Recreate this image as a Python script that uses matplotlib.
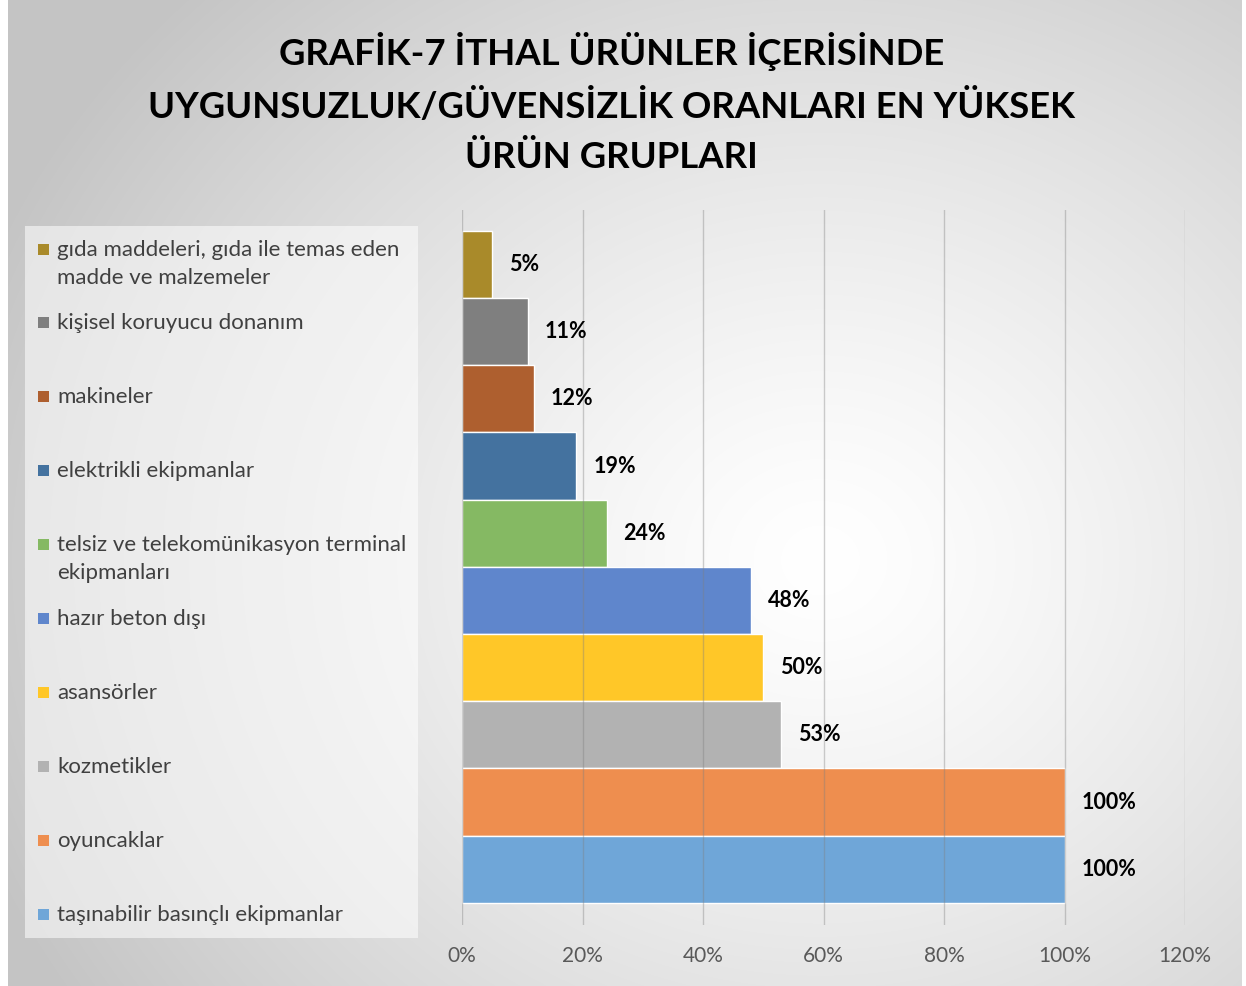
import matplotlib.pyplot as plt
import numpy as np

plt.rcParams['font.family'] = ['Lato', 'DejaVu Sans']

# data, top to bottom as in the chart
kategoriler = ['gıda maddeleri, gıda ile temas eden\nmadde ve malzemeler',
               'kişisel koruyucu donanım',
               'makineler',
               'elektrikli ekipmanlar',
               'telsiz ve telekomünikasyon terminal\nekipmanları',
               'hazır beton dışı',
               'asansörler',
               'kozmetikler',
               'oyuncaklar',
               'taşınabilir basınçlı ekipmanlar']
oranlar = [5, 11, 12, 19, 24, 48, 50, 53, 100, 100]
renkler = ['#A98A2A', '#7F7F7F', '#AE5F2F', '#44729F', '#85B963',
           '#5F86CC', '#FFC728', '#B2B2B2', '#EE8E4F', '#6FA6D8']
xticks = [0, 20, 40, 60, 80, 100, 120]

W, H = 1246, 986
fig = plt.figure(figsize=(W / 100, H / 100), dpi=100)

# background: radial grey gradient with white strips at the sides
bg = fig.add_axes([0, 0, 1, 1])
yy, xx = np.mgrid[0:H, 0:W]
d = np.sqrt(((xx - 820) / 900.0) ** 2 + ((yy - 560) / 800.0) ** 2)
d = np.clip(d, 0, 1)
val = 1.0 - 0.23 * d ** 1.3
img = np.dstack([val, val, val])
img[:, :8] = 1.0
img[:, 1242:] = 1.0
bg.imshow(img, aspect='auto', extent=[0, W, H, 0])
bg.set_xlim(0, W)
bg.set_ylim(H, 0)
bg.axis('off')

# legend panel
bg.add_patch(plt.Rectangle((25, 226), 393, 712, facecolor='white',
                           alpha=0.55, edgecolor='none'))

# title
fig.text(0.491, 1 - 103 / H, 'GRAFİK-7 İTHAL ÜRÜNLER İÇERİSİNDE\nUYGUNSUZLUK/GÜVENSİZLİK ORANLARI EN YÜKSEK\nÜRÜN GRUPLARI',
         ha='center', va='center', fontsize=26.3, fontweight='bold',
         linespacing=1.62, color='#000000')

ax = fig.add_axes([462 / W, 1 - 925 / H, (1185 - 462) / W, (925 - 210) / H])
ax.patch.set_alpha(0)
y = np.arange(len(oranlar))
bars = ax.barh(y, oranlar, height=1.0, color=renkler, edgecolor='white',
               linewidth=1.0, zorder=2)
ax.set_ylim(9.5 + 0.33, -0.5 - 0.31)
ax.set_xlim(0, 120)
ax.set_xticks(xticks)
ax.set_xticklabels([f'{t}%' for t in xticks], fontsize=15, color='#595959')
ax.tick_params(axis='x', length=0, pad=15)
ax.set_yticks([])
for s in ax.spines.values():
    s.set_visible(False)
ax.grid(axis='x', color='#7f7f7f', alpha=0.38, linewidth=1, zorder=3)
ax.set_axisbelow(False)

for b, v in zip(bars, oranlar):
    ax.annotate(f'{v}%', (b.get_width(), b.get_y() + b.get_height() / 2),
                xytext=(12, 0), textcoords='offset points', ha='left',
                va='center', fontsize=15.5, fontweight='bold', zorder=4)

# legend entries
legend_y = [250, 323, 397, 471, 545, 619, 693, 767, 841, 915]
for k, c, ly in zip(kategoriler, renkler, legend_y):
    bg.add_patch(plt.Rectangle((38, ly - 6), 11, 11, facecolor=c,
                               edgecolor='none'))
    bg.text(57, ly - 10, k, ha='left', va='top', fontsize=16,
            color='#404040', linespacing=1.5)

fig.savefig('out.png', dpi=100)
